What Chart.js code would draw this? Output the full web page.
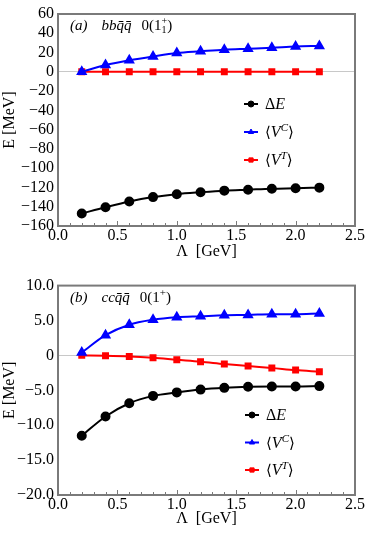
<!DOCTYPE html>
<html>
<head>
<meta charset="utf-8">
<script src="https://cdn.jsdelivr.net/npm/chart.js@4.4.0/dist/chart.umd.min.js"></script>
<style>
  body { margin: 0; background: #fff; }
  #page { position: relative; width: 366px; height: 545px; font-family: 'Liberation Serif', 'DejaVu Serif', serif; color: #000; }
  .panel { position: absolute; left: 0; width: 366px; }
  .txt { position: absolute; white-space: nowrap; line-height: 1; }
  .lab { font-size: 16px; }
  .ann { font-size: 15px; }
  .ann .sp { display: inline-block; width: 14px; }
  sup { font-size: 11px; vertical-align: 6px; line-height: 0; }
  .ss { display: inline-flex; flex-direction: column; font-size: 10px; line-height: 9px; vertical-align: 6px; }
  .ang { font-family: 'DejaVu Serif', serif; font-size: 15px; }
</style>
</head>
<body>
<div id="page">
  <div class="panel" style="top:0;height:272px"><canvas id="chartA"></canvas></div>
  <div class="panel" style="top:272px;height:273px"><canvas id="chartB"></canvas></div>

  <div class="txt ann" style="left:70px;top:16px"><i>(a)</i><span class="sp"></span><i>bb</i><i>q̄q̄</i><span class="sp" style="width:10px"></span>0(1<span class="ss"><span>+</span><span>1</span></span>)</div>
  <div class="txt ann" style="left:70px;top:290px"><i>(b)</i><span class="sp"></span><i>cc</i><i>q̄q̄</i><span class="sp" style="width:10px"></span>0(1<sup>+</sup>)</div>

  <div class="txt lab" style="left:265px;top:96px">Δ<i>E</i></div>
  <div class="txt lab" style="left:265px;top:124px"><span class="ang">⟨</span><i>V</i><sup><i>C</i></sup><span class="ang">⟩</span></div>
  <div class="txt lab" style="left:265px;top:152px"><span class="ang">⟨</span><i>V</i><sup><i>T</i></sup><span class="ang">⟩</span></div>

  <div class="txt lab" style="left:266px;top:407px">Δ<i>E</i></div>
  <div class="txt lab" style="left:266px;top:435px"><span class="ang">⟨</span><i>V</i><sup><i>C</i></sup><span class="ang">⟩</span></div>
  <div class="txt lab" style="left:266px;top:462px"><span class="ang">⟨</span><i>V</i><sup><i>T</i></sup><span class="ang">⟩</span></div>
</div>

<script>
// cutoff Λ in GeV
const lambda = [0.2, 0.4, 0.6, 0.8, 1.0, 1.2, 1.4, 1.6, 1.8, 2.0, 2.2];

// panel (a): bb qbar qbar, 0(1+_1)
const aDeltaE = [-147, -140.5, -134.5, -130, -127, -125, -123.3, -122.3, -121.3, -120.8, -120.2];
const aVC = [0, 7, 12, 16, 19.5, 21.3, 23, 24, 25, 26.3, 26.8];
const aVT = [0, 0, 0, 0, 0, 0, 0, 0, 0, 0, 0];

// panel (b): cc qbar qbar, 0(1+)
const bDeltaE = [-11.5, -8.75, -6.85, -5.8, -5.3, -4.9, -4.65, -4.5, -4.45, -4.45, -4.4];
const bVC = [0.4, 2.9, 4.4, 5.1, 5.45, 5.6, 5.75, 5.8, 5.9, 5.9, 6.0];
const bVT = [0, -0.05, -0.15, -0.35, -0.63, -0.9, -1.24, -1.53, -1.8, -2.1, -2.33];

const xTicks = [0.0, 0.5, 1.0, 1.5, 2.0, 2.5];
const aYRange = [-160, 60];
const bYRange = [-20, 10];

const serif = "'Liberation Serif', 'DejaVu Serif', serif";
const minus = v => (v < 0 ? '\u2212' : '') + Math.abs(v);

function series(data, color, style, r) {
  return {
    data: lambda.map((x, i) => ({ x: x, y: data[i] })),
    borderColor: color,
    backgroundColor: color,
    borderWidth: 2,
    pointStyle: style,
    pointRadius: r,
    pointHoverRadius: r,
    tension: 0.4,
    cubicInterpolationMode: 'monotone'
  };
}

// frame, inward bottom ticks and the small legend markers
const framePlugin = {
  id: 'frame',
  afterDatasetsDraw(chart, args, opts) {
    const ctx = chart.ctx;
    const a = chart.chartArea;
    const xs = chart.scales.x;
    ctx.save();
    ctx.strokeStyle = '#7a7a7a';
    ctx.lineWidth = 1;
    for (let k = 1; k < 25; k++) {
      const px = Math.round(xs.getPixelForValue(k / 10)) + 0.5;
      const len = k % 5 === 0 ? 5 : 3;
      ctx.beginPath();
      ctx.moveTo(px, a.bottom);
      ctx.lineTo(px, a.bottom - len);
      ctx.stroke();
    }
    ctx.lineWidth = 2;
    ctx.strokeRect(a.left, a.top, a.right - a.left, a.bottom - a.top);

    chart.data.datasets.forEach((ds, i) => {
      const x = opts.x, y = opts.y + i * opts.gap;
      ctx.strokeStyle = ds.borderColor;
      ctx.fillStyle = ds.backgroundColor;
      ctx.lineWidth = 2;
      ctx.beginPath();
      ctx.moveTo(x - 7, y);
      ctx.lineTo(x + 7, y);
      ctx.stroke();
      ctx.lineWidth = 1;
      Chart.helpers.drawPoint(ctx, { pointStyle: ds.pointStyle, radius: 3, rotation: 0, borderWidth: 1 }, x, y);
    });
    ctx.restore();
  }
};

function makeChart(id, sets, yRange, yStep, yFmt, pad, xHeight, xTitlePad, legend) {
  return new Chart(document.getElementById(id), {
    type: 'line',
    data: { datasets: sets },
    options: {
      responsive: true,
      maintainAspectRatio: false,
      animation: false,
      layout: { padding: { top: pad, right: 11, left: 0, bottom: 0 } },
      plugins: { legend: { display: false }, tooltip: { enabled: false }, frame: legend },
      scales: {
        x: {
          type: 'linear',
          min: 0, max: 2.5,
          afterBuildTicks: s => { s.ticks = xTicks.map(v => ({ value: v })); },
          afterFit: s => { s.height = xHeight; },
          grid: { display: false, drawTicks: false },
          border: { display: false },
          ticks: { autoSkip: false, padding: 0, color: '#000', font: { family: serif, size: 16 }, maxRotation: 0, callback: v => v.toFixed(1) },
          title: { display: true, text: '\u039b  [GeV]', color: '#000', font: { family: serif, size: 16 }, padding: { top: 0, bottom: xTitlePad } }
        },
        y: {
          min: yRange[0], max: yRange[1],
          afterFit: s => { s.width = 58; },
          grid: {
            drawTicks: false,
            color: c => (c.tick && c.tick.value === 0 ? '#c8c8c8' : 'rgba(0,0,0,0)'),
            lineWidth: 1
          },
          border: { display: false },
          ticks: { autoSkip: false, stepSize: yStep, padding: 4, color: '#000', font: { family: serif, size: 16 }, callback: yFmt },
          title: { display: true, text: 'E [MeV]', color: '#000', font: { family: serif, size: 16 }, padding: { top: 0, bottom: 0 } }
        }
      }
    },
    plugins: [framePlugin]
  });
}

makeChart('chartA',
  [series(aDeltaE, '#000000', 'circle', 4), series(aVC, '#0000ff', 'triangle', 4.5), series(aVT, '#ff0000', 'rect', 3.5)],
  aYRange, 20, v => minus(v), 14, 46, 11, { x: 251, y: 104, gap: 28 });

makeChart('chartB',
  [series(bDeltaE, '#000000', 'circle', 4), series(bVC, '#0000ff', 'triangle', 4.5), series(bVT, '#ff0000', 'rect', 3.5)],
  bYRange, 5, v => (v === 0 ? '0' : (v < 0 ? '\u2212' : '') + Math.abs(v).toFixed(1)), 11, 50, 17, { x: 252, y: 143, gap: 27.5 });
</script>
</body>
</html>
